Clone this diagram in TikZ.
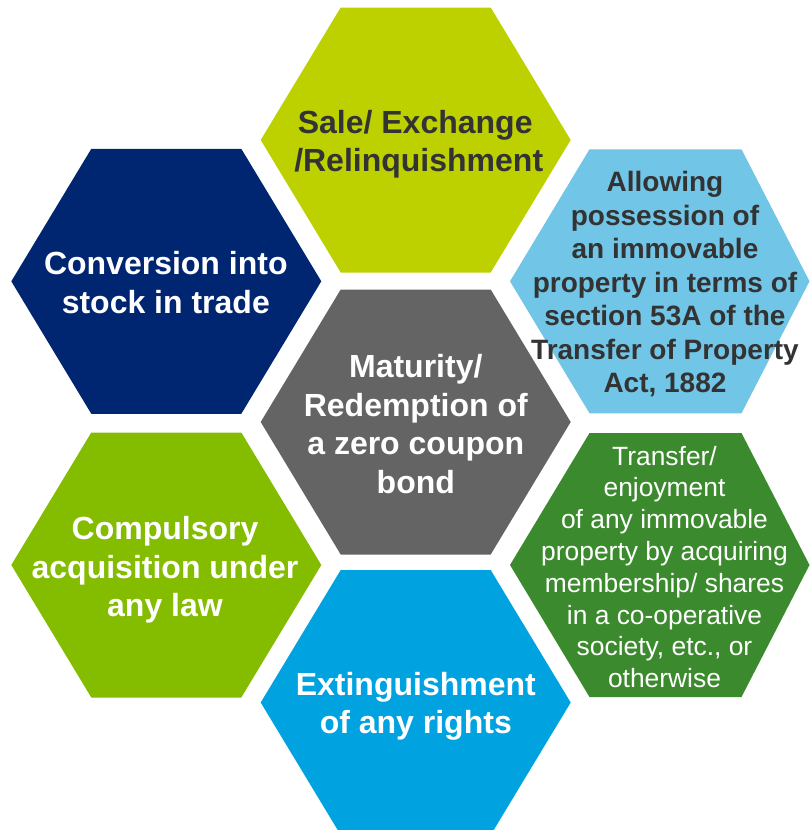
\documentclass[tikz,border=0pt]{standalone}
\usepackage{fontspec}
\setmainfont{Liberation Sans}

\definecolor{cSale}{HTML}{BDD100}
\definecolor{cConv}{HTML}{002672}
\definecolor{cAllow}{HTML}{71C5E6}
\definecolor{cMat}{HTML}{646464}
\definecolor{cComp}{HTML}{84BC00}
\definecolor{cTrans}{HTML}{3C8A2E}
\definecolor{cExt}{HTML}{00A3DF}
\definecolor{darktext}{HTML}{333333}

\tikzset{
  hexlabel/.style={inner sep=0pt, align=center},
  bigbold/.style={hexlabel, font=\fontsize{32}{38.4}\selectfont\bfseries},
  midbold/.style={hexlabel, font=\fontsize{28}{33.5}\selectfont\bfseries},
  smallplain/.style={hexlabel, font=\fontsize{26.4}{31.8}\selectfont},
}

\begin{document}
\begin{tikzpicture}[x=1pt, y=-1pt]
  \useasboundingbox (0,0) rectangle (809,830);

  % honeycomb cells of the left and middle columns
  \foreach \cx/\cy/\col in {415.7/140/cSale, 166.3/281.3/cConv, 415.7/422/cMat,
                             166.3/565/cComp, 415.7/702.5/cExt}
    \fill[\col] (\cx,\cy) ++(-155,0) -- ++(80,-132.5) -- ++(150,0)
                 -- ++(80,132.5) -- ++(-80,132.5) -- ++(-150,0) -- cycle;

  % right column cells, cut short at the right edge
  \foreach \cy/\col in {281.3/cAllow, 565/cTrans}
    \fill[\col] (510,\cy) -- (589.5,\cy-132) -- (741.5,\cy-132) -- (809.5,\cy)
                -- (741.5,\cy+132) -- (589.5,\cy+132) -- cycle;

  % labels
  \node[bigbold, text=darktext] (sale) at (418.7,144)
    {Sale/ Exchange\hspace*{7pt}\\/Relinquishment};
  \node[bigbold, text=white] (conv) at (165.8,282.5)
    {Conversion into\\stock in trade};
  \node[midbold, text=darktext] (allow) at (665,284.5)
    {Allowing\\possession of\\an immovable\\property in terms of\\section 53A of the\\Transfer of Property\\Act, 1882};
  \node[bigbold, text=white] (matur) at (415.8,424)
    {Maturity/\\Redemption of\\a zero coupon\\bond};
  \node[bigbold, text=white] (comp) at (165,570)
    {Compulsory\\acquisition under\\any law};
  \node[smallplain, text=white] (transf) at (664.5,567)
    {Transfer/\\enjoyment\\of any immovable\\property by acquiring\\membership/ shares\\in a co-operative\\society, etc., or\\otherwise};
  \node[bigbold, text=white] (ext) at (415.8,706)
    {Extinguishment\\of any rights};
\end{tikzpicture}
\end{document}
